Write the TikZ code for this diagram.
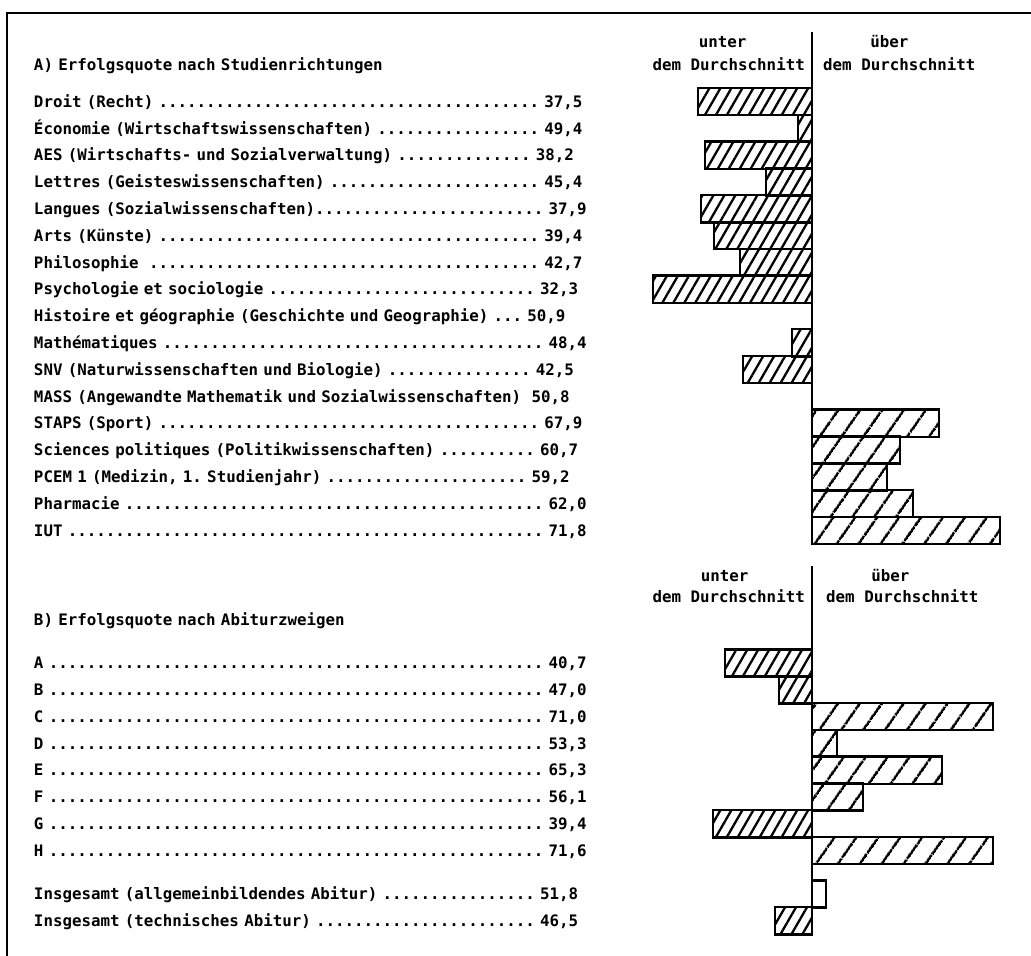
\documentclass[tikz,border=0pt]{standalone}
\usepackage{fontspec}
\setmainfont{DejaVu Sans Mono}
\usepackage{tikz}
\usetikzlibrary{patterns.meta}
\frenchspacing
\tikzstyle{row} = [rectangle, inner sep=0pt, text width=570pt, align=left, minimum height=26.8pt, text height=12.5pt, text depth=1pt, font=\bfseries\fontsize{15.8}{16}\selectfont]
\tikzstyle{head} = [rectangle, inner sep=0pt, text height=12.5pt, text depth=1pt, font=\bfseries\fontsize{15.8}{16}\selectfont]
\tikzstyle{unterbar} = [draw=black, line width=2.4pt, pattern={Lines[angle=60,distance=9.5pt,line width=2.3pt]}]
\tikzstyle{ueberbar} = [draw=black, line width=2.4pt, pattern={Lines[angle=55,distance=18.5pt,line width=2.8pt]}]
\tikzstyle{leerbar} = [draw=black, line width=2.4pt]
\tikzstyle{nullinie} = [line width=2.4pt]
\tikzstyle{rahmen} = [line width=2.6pt]

\begin{document}
\begin{tikzpicture}[x=1pt, y=1pt, node distance=26.8pt]
\useasboundingbox (0,0) rectangle (1031,-956);
\draw [rahmen] (1031,-13) -- (7,-13) -- (7,-956);

% A) Studienrichtungen
\node (droit) [row] at (319,-101.5) {Droit (Recht) ........................................ 37,5};
\node (titelA) [row, above of=droit, yshift=9.7pt] {A) Erfolgsquote nach Studienrichtungen};
\node (eco) [row, below of=droit] {Économie (Wirtschaftswissenschaften) ................. 49,4};
\node (aes) [row, below of=eco] {AES (Wirtschafts- und Sozialverwaltung) .............. 38,2};
\node (lettres) [row, below of=aes] {Lettres (Geisteswissenschaften) ...................... 45,4};
\node (langues) [row, below of=lettres] {Langues (Sozialwissenschaften)........................ 37,9};
\node (arts) [row, below of=langues] {Arts (Künste) ........................................ 39,4};
\node (philo) [row, below of=arts] {Philosophie~ ......................................... 42,7};
\node (psycho) [row, below of=philo] {Psychologie et sociologie ............................ 32,3};
\node (histoire) [row, below of=psycho] {Histoire et géographie (Geschichte und Geographie) ... 50,9};
\node (mathe) [row, below of=histoire] {Mathématiques ........................................ 48,4};
\node (snv) [row, below of=mathe] {SNV (Naturwissenschaften und Biologie) ............... 42,5};
\node (mass) [row, below of=snv] {MASS (Angewandte Mathematik und Sozialwissenschaften)~ 50,8};
\node (staps) [row, below of=mass] {STAPS (Sport) ........................................ 67,9};
\node (scpo) [row, below of=staps] {Sciences politiques (Politikwissenschaften) .......... 60,7};
\node (pcem) [row, below of=scpo] {PCEM 1 (Medizin, 1. Studienjahr) ..................... 59,2};
\node (pharma) [row, below of=pcem] {Pharmacie ............................................ 62,0};
\node (iut) [row, below of=pharma] {IUT .................................................. 71,8};

\coordinate (nullA) at (812,-32);
\node (dsUnterA) [head, anchor=east] at (805,-65) {dem Durchschnitt};
\node (unterA) [head, above of=dsUnterA, yshift=-3.8pt, xshift=-6pt] {unter};
\node (dsUeberA) [head, anchor=west] at (823,-65) {dem Durchschnitt};
\node (ueberA) [head, above of=dsUeberA, yshift=-3.8pt, xshift=-10pt] {über};

\draw [unterbar] (nullA |- droit.north) rectangle (698,0 |- droit.south);
\draw [unterbar] (nullA |- eco.north) rectangle (798,0 |- eco.south);
\draw [unterbar] (nullA |- aes.north) rectangle (705,0 |- aes.south);
\draw [unterbar] (nullA |- lettres.north) rectangle (766,0 |- lettres.south);
\draw [unterbar] (nullA |- langues.north) rectangle (701,0 |- langues.south);
\draw [unterbar] (nullA |- arts.north) rectangle (714,0 |- arts.south);
\draw [unterbar] (nullA |- philo.north) rectangle (740,0 |- philo.south);
\draw [unterbar] (nullA |- psycho.north) rectangle (653,0 |- psycho.south);
\draw [unterbar] (nullA |- mathe.north) rectangle (792,0 |- mathe.south);
\draw [unterbar] (nullA |- snv.north) rectangle (743,0 |- snv.south);
\draw [ueberbar] (nullA |- staps.north) rectangle (939,0 |- staps.south);
\draw [ueberbar] (nullA |- scpo.north) rectangle (900,0 |- scpo.south);
\draw [ueberbar] (nullA |- pcem.north) rectangle (887,0 |- pcem.south);
\draw [ueberbar] (nullA |- pharma.north) rectangle (913,0 |- pharma.south);
\draw [ueberbar] (nullA |- iut.north) rectangle (1000,0 |- iut.south);
\draw [nullinie] (nullA) -- (nullA |- iut.south);

% B) Abiturzweige
\node (abiA) [row] at (319,-663) {A .................................................... 40,7};
\node (titelB) [row, above of=abiA, yshift=16.2pt] {B) Erfolgsquote nach Abiturzweigen};
\node (abiB) [row, below of=abiA] {B .................................................... 47,0};
\node (abiC) [row, below of=abiB] {C .................................................... 71,0};
\node (abiD) [row, below of=abiC] {D .................................................... 53,3};
\node (abiE) [row, below of=abiD] {E .................................................... 65,3};
\node (abiF) [row, below of=abiE] {F .................................................... 56,1};
\node (abiG) [row, below of=abiF] {G .................................................... 39,4};
\node (abiH) [row, below of=abiG] {H .................................................... 71,6};
\node (gesA) [row, below of=abiH, yshift=-16.6pt] {Insgesamt (allgemeinbildendes Abitur) ................ 51,8};
\node (gesT) [row, below of=gesA] {Insgesamt (technisches Abitur) ....................... 46,5};

\coordinate (nullB) at (812,-566);
\node (dsUnterB) [head, anchor=east] at (805,-597) {dem Durchschnitt};
\node (unterB) [head, above of=dsUnterB, yshift=-5.8pt, xshift=-4pt] {unter};
\node (dsUeberB) [head, anchor=west] at (826,-597) {dem Durchschnitt};
\node (ueberB) [head, above of=dsUeberB, yshift=-5.8pt, xshift=-12pt] {über};

\draw [unterbar] (nullB |- abiA.north) rectangle (725,0 |- abiA.south);
\draw [unterbar] (nullB |- abiB.north) rectangle (779,0 |- abiB.south);
\draw [ueberbar] (nullB |- abiC.north) rectangle (993,0 |- abiC.south);
\draw [ueberbar] (nullB |- abiD.north) rectangle (837,0 |- abiD.south);
\draw [ueberbar] (nullB |- abiE.north) rectangle (942,0 |- abiE.south);
\draw [ueberbar] (nullB |- abiF.north) rectangle (863,0 |- abiF.south);
\draw [unterbar] (nullB |- abiG.north) rectangle (713,0 |- abiG.south);
\draw [ueberbar] (nullB |- abiH.north) rectangle (993,0 |- abiH.south);
\draw [leerbar] (nullB |- gesA.north) rectangle (826,0 |- gesA.south);
\draw [unterbar] (nullB |- gesT.north) rectangle (775,0 |- gesT.south);
\draw [nullinie] (nullB) -- (nullB |- gesT.south);
\end{tikzpicture}
\end{document}
